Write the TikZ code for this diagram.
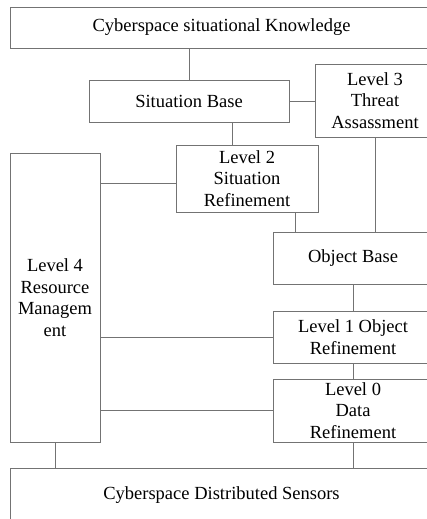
\documentclass[tikz,border=0pt]{standalone}
\usepackage{fontspec}
\setmainfont{Liberation Serif}
\begin{document}
\begin{tikzpicture}[x=1pt,y=-1pt,
  box/.style={draw=black!55, line width=0.9pt, align=center, inner sep=0pt,
    font=\fontsize{18.5}{21.5}\selectfont, text=black},
  link/.style={draw=black!55, line width=0.9pt}]
\useasboundingbox (0,0) rectangle (427,519);
\clip (0,0) rectangle (427,519);
\fill[white] (0,0) rectangle (427,519);
\node[box, minimum width=423pt, minimum height=41pt] (top) at (221.5,27.5) {Cyberspace situational Knowledge};
\node[box, minimum width=200pt, minimum height=42pt] (sb) at (189,101) {Situation Base};
\node[box, minimum width=120pt, minimum height=73pt] (l3) at (375,100.5) {Level 3\\Threat\\Assassment};
\node[box, minimum width=142pt, minimum height=67pt] (l2) at (247,178.5) {Level 2\\Situation\\Refinement};
\node[box, minimum width=90pt, minimum height=289pt] (l4) at (55,297.5) {Level 4\\Resource\\Managem\\ent};
\node[box, minimum width=160pt, minimum height=52pt] (ob) at (353,258) {Object Base};
\node[box, minimum width=160pt, minimum height=52pt] (l1) at (353,337) {Level 1 Object\\Refinement};
\node[box, minimum width=160pt, minimum height=63pt] (l0) at (353,410.5) {Level 0\\Data\\Refinement};
\node[box, minimum width=423pt, minimum height=54pt] (bot) at (221.5,495) {Cyberspace Distributed Sensors};
\draw[link] (top.south -| sb.north) -- (sb.north);
\draw[link] (sb.east) -- (sb.east -| l3.west);
\draw[link] ([xshift=43pt]sb.south) -- ([xshift=43pt]sb.south |- l2.north);
\draw[link] ([yshift=-4.5pt]l2.west) -- ([yshift=-4.5pt]l2.west -| l4.east);
\draw[link] ([xshift=48pt]l2.south) -- ([xshift=48pt]l2.south |- ob.north);
\draw[link] (l3.south) -- (l3.south |- ob.north);
\draw[link] (ob.south) -- (l1.north);
\draw[link] (l1.west) -- (l1.west -| l4.east);
\draw[link] (l1.south) -- (l0.north);
\draw[link] (l0.west) -- (l0.west -| l4.east);
\draw[link] (l4.south) -- (l4.south |- bot.north);
\draw[link] (l0.south) -- (l0.south |- bot.north);
\end{tikzpicture}
\end{document}
